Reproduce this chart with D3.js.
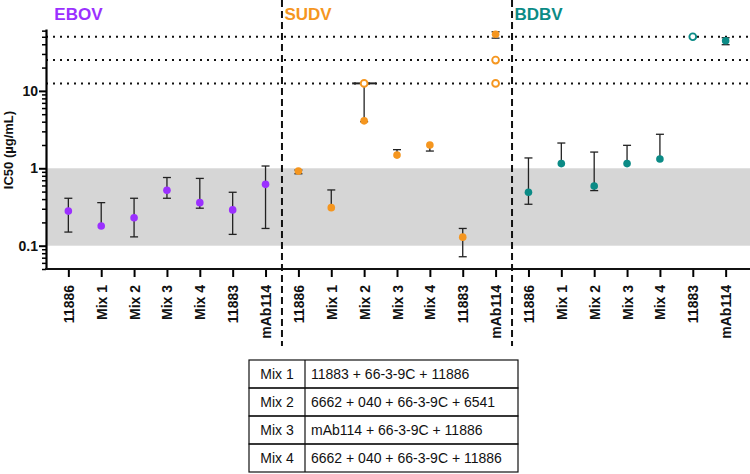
<!DOCTYPE html>
<html>
<head>
<meta charset="utf-8">
<script src="https://cdn.jsdelivr.net/npm/d3@7"></script>
<style>
  body { margin: 0; background: #fff; }
  svg { display: block; font-family: 'Liberation Sans', Arial, sans-serif; }
</style>
</head>
<body>
<div id="graf"></div>
<script>
// datos
const viruses = ['EBOV', 'SUDV', 'BDBV']
const virusColors = ['#9b30ff', '#f5961f', '#0b8b86']
const antibodies = ['11886', 'Mix 1', 'Mix 2', 'Mix 3', 'Mix 4', '11883', 'mAb114']

const ebovIC50 = [0.28, 0.18, 0.23, 0.52, 0.36, 0.29, 0.62]
const ebovLow = [0.15, 0.18, 0.13, 0.41, 0.305, 0.14, 0.167]
const ebovHigh = [0.41, 0.36, 0.41, 0.76, 0.74, 0.49, 1.07]

const sudvIC50 = [0.92, 0.31, 4.1, 1.48, 2.0, 0.129, 54]
const sudvLow = [0.85, 0.31, 4.0, 1.48, 1.67, 0.072, 48]
const sudvHigh = [0.95, 0.525, 12.5, 1.74, 2.0, 0.167, 58]

const bdbvIC50 = [0.49, 1.15, 0.59, 1.15, 1.32, null, 44.5]
const bdbvLow = [0.343, 1.15, 0.515, 1.15, 1.32, null, 39.5]
const bdbvHigh = [1.36, 2.12, 1.62, 1.98, 2.75, null, 48.6]

// puntos abiertos (sin neutralizacion a la concentracion maxima)
const openVirus = ['SUDV', 'SUDV', 'SUDV', 'BDBV']
const openAntibody = ['Mix 2', 'mAb114', 'mAb114', '11883']
const openValue = [12.5, 25, 12.5, 50]

const cutoffs = [12.5, 25, 50]
const band = [0.1, 1]
const yTicks = [0.1, 1, 10]
const yDomain = [0.05, 63]

const mixNames = ['Mix 1', 'Mix 2', 'Mix 3', 'Mix 4']
const mixRecipes = [
  '11883 + 66-3-9C + 11886',
  '6662 + 040 + 66-3-9C + 6541',
  'mAb114 + 66-3-9C + 11886',
  '6662 + 040 + 66-3-9C + 11886',
]

const series = [
  [ebovIC50, ebovLow, ebovHigh],
  [sudvIC50, sudvLow, sudvHigh],
  [bdbvIC50, bdbvLow, bdbvHigh],
]

const data = []
viruses.forEach((v, i) => {
  antibodies.forEach((a, j) => {
    data.push({
      virus: v,
      ab: a,
      key: `${v}|${a}`,
      value: series[i][0][j],
      low: series[i][1][j],
      high: series[i][2][j],
      color: virusColors[i],
    })
  })
})
const openData = openValue.map((d, i) => ({
  key: `${openVirus[i]}|${openAntibody[i]}`,
  value: d,
  color: virusColors[viruses.indexOf(openVirus[i])],
}))

const anchoTotal = 750
const altoTotal = 474
const plot = { left: 46, right: 750, top: 29, bottom: 269 }

const svg = d3
  .select('#graf')
  .append('svg')
  .attr('width', anchoTotal)
  .attr('height', altoTotal)

const x = d3
  .scalePoint()
  .domain(data.map((d) => d.key))
  .range([plot.left, 748])
  .padding(0.68)
const y = d3.scaleLog().domain(yDomain).range([plot.bottom, plot.top])

// banda gris
svg
  .append('rect')
  .attr('x', plot.left)
  .attr('width', plot.right - plot.left)
  .attr('y', y(band[1]))
  .attr('height', y(band[0]) - y(band[1]))
  .attr('fill', '#d6d6d6')

// lineas punteadas
svg
  .selectAll('.cutoff')
  .data(cutoffs)
  .join('line')
  .attr('x1', plot.left)
  .attr('x2', plot.right)
  .attr('y1', (d) => y(d))
  .attr('y2', (d) => y(d))
  .attr('stroke', '#111')
  .attr('stroke-width', 2)
  .attr('stroke-dasharray', '2,5')

// separadores entre virus
const seps = viruses.slice(1).map((v, i) => {
  const a = x(`${viruses[i]}|${antibodies[antibodies.length - 1]}`)
  const b = x(`${v}|${antibodies[0]}`)
  return (a + b) / 2
})
svg
  .selectAll('.sep')
  .data(seps)
  .join('line')
  .attr('x1', (d) => d)
  .attr('x2', (d) => d)
  .attr('y1', 0)
  .attr('y2', 346)
  .attr('stroke', '#111')
  .attr('stroke-width', 2)
  .attr('stroke-dasharray', '7,4')

// titulos de cada virus
svg
  .selectAll('.vlabel')
  .data(viruses)
  .join('text')
  .attr('x', (d) => x(`${d}|${antibodies[0]}`) - 14)
  .attr('y', 20)
  .attr('fill', (d, i) => virusColors[i])
  .attr('font-size', 17)
  .attr('font-weight', 'bold')
  .text((d) => d)

// eje y
const yAxis = svg
  .append('g')
  .attr('transform', `translate(${plot.left}, 0)`)
  .call(
    d3
      .axisLeft(y)
      .tickValues(yTicks)
      .tickSize(7)
      .tickSizeOuter(0)
      .tickFormat((d) => d)
  )
yAxis.select('.domain').attr('stroke-width', 2.2)
yAxis.selectAll('.tick line').attr('stroke-width', 2)
yAxis
  .selectAll('.tick text')
  .attr('font-size', 14)
  .attr('font-weight', 'bold')
  .attr('fill', '#111')
  .attr('x', -8)

const minor = y.ticks().filter((t) => !yTicks.includes(t))
svg
  .append('g')
  .attr('transform', `translate(${plot.left}, 0)`)
  .call(d3.axisLeft(y).tickValues(minor).tickSize(4).tickFormat(''))
  .call((g) => g.select('.domain').remove())
  .selectAll('line')
  .attr('stroke-width', 1.5)

svg
  .append('text')
  .attr('transform', 'translate(13, 150) rotate(-90)')
  .attr('text-anchor', 'middle')
  .attr('font-size', 13)
  .attr('font-weight', 'bold')
  .attr('fill', '#111')
  .text('IC50 (µg/mL)')

// eje x
const xAxis = svg
  .append('g')
  .attr('transform', `translate(0, ${plot.bottom})`)
  .call(
    d3
      .axisBottom(x)
      .tickSize(8)
      .tickSizeOuter(0)
      .tickFormat((d) => d.split('|')[1])
  )
xAxis.select('.domain').remove()
xAxis
  .append('line')
  .attr('x1', plot.left - 1)
  .attr('x2', plot.right)
  .attr('stroke', '#111')
  .attr('stroke-width', 2.2)
xAxis.selectAll('.tick line').attr('stroke-width', 2)
xAxis
  .selectAll('.tick text')
  .attr('transform', 'rotate(-90)')
  .attr('text-anchor', 'end')
  .attr('x', -16)
  .attr('y', 0)
  .attr('dy', '0.36em')
  .attr('font-size', 14)
  .attr('font-weight', 'bold')
  .attr('fill', '#111')

// barras de error
const cap = 4
const err = svg
  .selectAll('.err')
  .data(data.filter((d) => d.value != null))
  .join('g')
  .attr('stroke', '#222')
  .attr('stroke-width', 1.3)
err
  .append('line')
  .attr('x1', (d) => x(d.key))
  .attr('x2', (d) => x(d.key))
  .attr('y1', (d) => y(d.low))
  .attr('y2', (d) => y(d.high))
err
  .filter((d) => d.high > d.value)
  .append('line')
  .attr('x1', (d) => x(d.key) - (cutoffs.includes(d.high) ? 12 : cap))
  .attr('x2', (d) => x(d.key) + (cutoffs.includes(d.high) ? 12 : cap))
  .attr('y1', (d) => y(d.high))
  .attr('y2', (d) => y(d.high))
  .attr('stroke-width', (d) => (cutoffs.includes(d.high) ? 2 : 1.3))
err
  .filter((d) => d.low < d.value)
  .append('line')
  .attr('x1', (d) => x(d.key) - cap)
  .attr('x2', (d) => x(d.key) + cap)
  .attr('y1', (d) => y(d.low))
  .attr('y2', (d) => y(d.low))

// puntos
svg
  .selectAll('.pt')
  .data(data.filter((d) => d.value != null))
  .join('circle')
  .attr('cx', (d) => x(d.key))
  .attr('cy', (d) => y(d.value))
  .attr('r', 3.8)
  .attr('fill', (d) => d.color)

svg
  .selectAll('.open')
  .data(openData)
  .join('circle')
  .attr('cx', (d) => x(d.key))
  .attr('cy', (d) => y(d.value))
  .attr('r', 3.4)
  .attr('fill', '#fff')
  .attr('stroke', (d) => d.color)
  .attr('stroke-width', 1.9)

// tabla de mezclas
const tab = { x0: 249, x1: 518, col: 305, y0: 360, rowH: 28 }
const rows = svg
  .append('g')
  .selectAll('g')
  .data(mixNames)
  .join('g')
  .attr('transform', (d, i) => `translate(0, ${tab.y0 + i * tab.rowH})`)
rows
  .append('rect')
  .attr('x', tab.x0)
  .attr('width', tab.x1 - tab.x0)
  .attr('height', tab.rowH)
  .attr('fill', 'none')
  .attr('stroke', '#111')
  .attr('stroke-width', 1.2)
rows
  .append('line')
  .attr('x1', tab.col)
  .attr('x2', tab.col)
  .attr('y2', tab.rowH)
  .attr('stroke', '#111')
  .attr('stroke-width', 1.2)
rows
  .append('text')
  .attr('x', (tab.x0 + tab.col) / 2)
  .attr('y', tab.rowH / 2)
  .attr('dy', '0.35em')
  .attr('text-anchor', 'middle')
  .attr('font-size', 14)
  .attr('fill', '#111')
  .text((d) => d)
rows
  .append('text')
  .attr('x', tab.col + 6)
  .attr('y', tab.rowH / 2)
  .attr('dy', '0.35em')
  .attr('font-size', 14)
  .attr('fill', '#111')
  .text((d, i) => mixRecipes[i])
</script>
</body>
</html>
